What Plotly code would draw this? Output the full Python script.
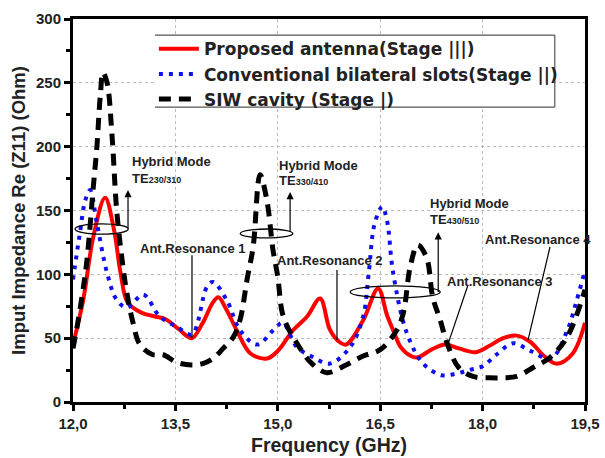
import plotly.graph_objects as go

# ---------------- data ----------------
freq_prop = [12.0, 12.15, 12.3, 12.47, 12.6, 12.7, 12.8, 13.0, 13.2, 13.35, 13.55, 13.74, 13.9, 14.05,
             14.13, 14.25, 14.4, 14.6, 14.84, 15.0, 15.22, 15.43, 15.62, 15.76, 15.88, 16.0, 16.25,
             16.47, 16.6, 16.7, 16.8, 16.95, 17.05, 17.25, 17.45, 17.65, 17.9, 18.1, 18.3, 18.5,
             18.7, 18.9, 19.09, 19.32, 19.5]
z_prop = [45, 80, 130, 160, 135, 100, 78, 70, 67, 65, 57, 50, 62, 78,
          82, 72, 56, 38, 34, 40, 56, 67, 81, 57, 48, 45, 64,
          89, 68, 55, 43, 36, 35, 41, 45, 42, 39, 44, 50, 52,
          47, 36, 30, 38, 62]

freq_conv = [12.0, 12.1, 12.18, 12.25, 12.35, 12.5, 12.64, 12.79, 13.03, 13.27, 13.52, 13.74, 13.96,
             14.05, 14.25, 14.45, 14.7, 14.93, 15.07, 15.28, 15.52, 15.76, 16.06, 16.25, 16.33,
             16.42, 16.53, 16.6, 16.69, 16.89, 17.13, 17.4, 17.6, 17.8, 18.0, 18.2, 18.45, 18.7,
             19.0, 19.24, 19.38, 19.5]
z_conv = [96, 132, 158, 166, 140, 101, 80, 74, 84, 67, 59, 53, 90,
          94, 80, 56, 45, 56, 62, 43, 35, 30, 43, 67, 100,
          140, 153, 142, 101, 54, 30, 21, 22, 25, 28, 37, 46, 40,
          34, 56, 80, 103]

freq_siw = [12.0, 12.06, 12.13, 12.2, 12.3, 12.35, 12.4, 12.44, 12.5, 12.57, 12.64, 12.72, 12.79,
            12.88, 12.98, 13.17, 13.32, 13.52, 13.74, 13.9, 14.05, 14.2, 14.35, 14.45, 14.55,
            14.64, 14.74, 14.84, 14.93, 15.0, 15.08, 15.28, 15.5, 15.72, 16.0, 16.25, 16.5,
            16.74, 16.84, 16.94, 17.05, 17.18, 17.27, 17.38, 17.48, 17.65, 17.86, 18.1, 18.3,
            18.5, 18.74, 18.99, 19.24, 19.5]
z_siw = [42, 59, 82, 109, 170, 200, 240, 258, 250, 210, 150, 111, 85,
         62, 45, 37, 37, 31, 29, 30, 34, 42, 51, 65, 96,
         122, 178, 158, 119, 98, 67, 46, 30, 23, 29, 36, 41,
         56, 70, 106, 123, 113, 82, 64, 46, 27, 20, 19, 19,
         20, 27, 35, 51, 88]

series_names = ["Proposed antenna(Stage |||)",
                "Conventional bilateral slots(Stage ||)",
                "SIW cavity (Stage |)"]

x_tickvals = [12.0, 13.5, 15.0, 16.5, 18.0, 19.5]
x_ticktext = ["12,0", "13,5", "15,0", "16,5", "18,0", "19,5"]
x_minor = [12.75, 14.25, 15.75, 17.25, 18.75]
y_tickvals = [0, 50, 100, 150, 200, 250, 300]
y_minor = [25, 75, 125, 175, 225, 275]

FONT = "Liberation Sans, Arial, sans-serif"
LEG_FONT = "DejaVu Sans, Liberation Sans, sans-serif"

fig = go.Figure()
fig.add_trace(go.Scatter(x=freq_prop, y=z_prop, mode="lines", name=series_names[0],
                         line=dict(color="#ff0000", width=4, shape="spline", smoothing=1.0)))
fig.add_trace(go.Scatter(x=freq_conv, y=z_conv, mode="lines", name=series_names[1],
                         line=dict(color="#1010ee", width=4, dash="4px,6px", shape="spline", smoothing=1.0)))
fig.add_trace(go.Scatter(x=freq_siw, y=z_siw, mode="lines", name=series_names[2],
                         line=dict(color="#000000", width=5, dash="12px,8px", shape="spline", smoothing=1.0)))

# ---------------- annotation furniture ----------------
ann_font = dict(family=FONT, size=13, color="#222222")
small = "<span style='font-size:9px'>%s</span>"
texts = [
    (12.835, 188.7, "<b>Hybrid Mode</b>"),
    (12.835, 175.4, "<b>TE" + small % "230/310" + "</b>"),
    (14.99, 185.6, "<b>Hybrid Mode</b>"),
    (14.99, 173.8, "<b>TE" + small % "330/410" + "</b>"),
    (17.2, 155.8, "<b>Hybrid Mode</b>"),
    (17.2, 143.3, "<b>TE" + small % "430/510" + "</b>"),
    (12.95, 120.6, "<b>Ant.Resonance 1</b>"),
    (14.96, 111.2, "<b>Ant.Resonance 2</b>"),
    (17.45, 94.0, "<b>Ant.Resonance 3</b>"),
    (18.0, 127.0, "<b>Ant.Resonance 4</b>"),
]
for tx, ty, t in texts:
    fig.add_annotation(x=tx, y=ty, xref="x", yref="y", text=t, showarrow=False,
                       xanchor="left", yanchor="middle", font=ann_font)

# ellipses
for (x0, x1, y0, y1) in [(12.03, 12.81, 131.5, 139.5), (14.45, 15.22, 128.5, 135.5),
                          (16.06, 17.38, 81.5, 91.0)]:
    fig.add_shape(type="circle", xref="x", yref="y", x0=x0, x1=x1, y0=y0, y1=y1,
                  line=dict(color="black", width=1.3))

# pointer lines for antenna resonances
for (x0, y0, x1, y1) in [(13.743, 115, 13.743, 50), (15.867, 103.4, 15.867, 48.5),
                          (17.786, 91.6, 17.478, 43), (18.987, 121.4, 18.665, 48.5)]:
    fig.add_shape(type="line", xref="x", yref="y", x0=x0, y0=y0, x1=x1, y1=y1,
                  line=dict(color="black", width=1.2))

# upward arrows from ellipses
for (xa, yb, yt) in [(12.806, 135, 166), (15.18, 132, 164.4), (17.35, 85, 133)]:
    fig.add_annotation(x=xa, y=yt, ax=xa, ay=yb, xref="x", yref="y", axref="x", ayref="y",
                       text="", showarrow=True, arrowhead=2, arrowsize=1.2, arrowwidth=1.2,
                       arrowcolor="black")

# legend frame: white panel, top/bottom/right rules (left side open as in the reference)
LX0, LX1, LY0, LY1 = 0.160, 0.941, 0.770, 0.958
fig.add_shape(type="rect", xref="paper", yref="paper", x0=LX0, x1=LX1, y0=LY0, y1=LY1,
              fillcolor="white", line=dict(width=0), layer="above")
for (a, b, c, d) in [(LX0, LY1, LX1, LY1), (LX0, LY0, LX1, LY0), (LX1, LY0, LX1, LY1)]:
    fig.add_shape(type="line", xref="paper", yref="paper", x0=a, y0=b, x1=c, y1=d,
                  line=dict(color="#555555", width=1.2), layer="above")

axis_common = dict(showline=True, linecolor="black", linewidth=3, mirror=True,
                   ticks="outside", ticklen=6, tickwidth=2.5, tickcolor="black",
                   showgrid=True, gridcolor="#bbbbbb", griddash="dot", gridwidth=1,
                   zeroline=False, automargin=False,
                   tickfont=dict(family=FONT, size=15, color="#222222", weight="bold"))

fig.update_xaxes(range=[12.0, 19.5], tickvals=x_tickvals, ticktext=x_ticktext,
                 minor=dict(tickvals=x_minor, ticks="outside", ticklen=4, tickwidth=2.5,
                            tickcolor="black", showgrid=False),
                 title=dict(text="Frequency (GHz)", standoff=8,
                            font=dict(family=FONT, size=19.5, color="#222222", weight="bold")),
                 **axis_common)
fig.update_yaxes(range=[0, 300], tickvals=y_tickvals,
                 minor=dict(tickvals=y_minor, ticks="outside", ticklen=4, tickwidth=2.5,
                            tickcolor="black", showgrid=False),
                 title=dict(text="Imput Impedance Re (Z11) (Ohm)", standoff=6,
                            font=dict(family=FONT, size=18.5, color="#222222", weight="bold")),
                 **axis_common)

fig.update_layout(
    width=605, height=458,
    margin=dict(l=73, r=20, t=19, b=56, autoexpand=False),
    paper_bgcolor="white", plot_bgcolor="white",
    legend=dict(x=0.158, y=0.968, xanchor="left", yanchor="top",
                bgcolor="rgba(0,0,0,0)", borderwidth=0,
                font=dict(family=LEG_FONT, size=17, color="#222222", weight="bold"),
                tracegroupgap=0, itemwidth=40),
    showlegend=True,
)

fig.write_html("out.html", config={"displayModeBar": False},
               post_script="document.body.style.margin='0';")
